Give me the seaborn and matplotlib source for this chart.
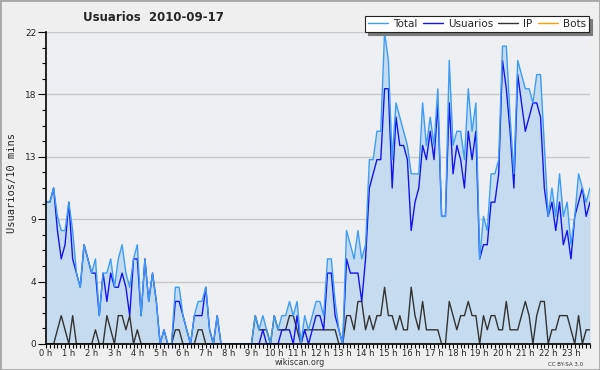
import numpy as np
import pandas as pd
import matplotlib
matplotlib.use("Agg")
import matplotlib.pyplot as plt
import seaborn as sns
from matplotlib.patches import Rectangle
from matplotlib.lines import Line2D

# counts per 10 minutes, 2010-09-17 (144 slots)
usuarios = [
    10, 10, 11, 8, 6, 7, 10, 6, 5, 4, 7, 6, 5, 5, 2, 5, 3, 5, 4, 4, 5, 4, 2, 6,
    6, 2, 6, 3, 5, 3, 0, 1, 0, 0, 3, 3, 2, 1, 0, 2, 2, 2, 4, 1, 0, 2, 0, 0,
    0, 0, 0, 0, 0, 0, 0, 0, 0, 1, 0, 0, 0, 0, 1, 1, 1, 0, 2, 0, 1, 0, 1, 2,
    2, 1, 5, 5, 2, 1, 0, 6, 5, 5, 5, 3, 6, 11, 12, 13, 13, 18, 18, 11, 16, 14, 14, 13,
    8, 10, 11, 14, 13, 15, 13, 17, 9, 9, 17, 12, 14, 13, 11, 15, 13, 15, 6, 7, 7, 10, 10, 12,
    20, 18, 15, 11, 19, 17, 15, 16, 17, 17, 16, 11, 9, 10, 8, 10, 7, 8, 6, 9, 10, 11, 9, 10,
]
ip = [
    0, 0, 0, 1, 2, 1, 0, 2, 0, 0, 0, 0, 0, 1, 0, 0, 2, 1, 0, 2, 2, 1, 2, 0,
    1, 0, 0, 0, 0, 0, 0, 0, 0, 0, 1, 1, 0, 0, 0, 0, 1, 1, 0, 0, 0, 0, 0, 0,
    0, 0, 0, 0, 0, 0, 0, 2, 1, 1, 1, 0, 2, 1, 1, 1, 2, 2, 1, 0, 1, 1, 1, 1,
    1, 1, 1, 1, 1, 0, 0, 2, 2, 1, 3, 3, 1, 2, 1, 2, 2, 4, 2, 2, 1, 2, 1, 1,
    4, 2, 1, 3, 1, 1, 1, 1, 0, 0, 3, 2, 1, 2, 2, 3, 2, 2, 0, 2, 1, 2, 2, 1,
    1, 3, 1, 1, 1, 2, 3, 2, 0, 2, 3, 3, 0, 1, 1, 2, 2, 2, 1, 0, 2, 0, 1, 1,
]
total = [
    10, 10, 11, 9, 8, 8, 10, 8, 5, 4, 7, 6, 5, 6, 2, 5, 5, 6, 4, 6, 7, 5, 4, 6,
    7, 2, 6, 3, 5, 3, 0, 1, 0, 0, 4, 4, 2, 1, 0, 2, 3, 3, 4, 1, 0, 2, 0, 0,
    0, 0, 0, 0, 0, 0, 0, 2, 1, 2, 1, 0, 2, 1, 2, 2, 3, 2, 3, 0, 2, 1, 2, 3,
    3, 2, 6, 6, 3, 1, 0, 8, 7, 6, 8, 6, 7, 13, 13, 15, 15, 22, 20, 13, 17, 16, 15, 14,
    12, 12, 12, 17, 14, 16, 14, 18, 9, 9, 20, 14, 15, 15, 13, 18, 15, 17, 6, 9, 8, 12, 12, 13,
    21, 21, 16, 12, 20, 19, 18, 18, 17, 19, 19, 14, 9, 11, 9, 12, 9, 10, 7, 9, 12, 11, 10, 11,
]
bots = [
    0, 0, 0, 0, 0, 0, 0, 0, 0, 0, 0, 0, 0, 0, 0, 0, 0, 0, 0, 0, 0, 0, 0, 0,
    0, 0, 0, 0, 0, 0, 0, 0, 0, 0, 0, 0, 0, 0, 0, 0, 0, 0, 0, 0, 0, 0, 0, 0,
    0, 0, 0, 0, 0, 0, 0, 0, 0, 0, 0, 0, 0, 0, 0, 0, 0, 0, 0, 0, 0, 0, 0, 0,
    0, 0, 0, 0, 0, 0, 0, 0, 0, 0, 0, 0, 0, 0, 0, 0, 0, 0, 0, 0, 0, 0, 0, 0,
    0, 0, 0, 0, 0, 0, 0, 0, 0, 0, 0, 0, 0, 0, 0, 0, 0, 0, 0, 0, 0, 0, 0, 0,
    0, 0, 0, 0, 0, 0, 0, 0, 0, 0, 0, 0, 0, 0, 0, 0, 0, 0, 0, 0, 0, 0, 0, 0,
]
hour_labels = [f"{h} h" for h in range(24)]
y_ticks = [0, 4.4, 8.8, 13.2, 17.6, 22]
y_labels = ["0", "4", "9", "13", "18", "22"]
series = ["Total", "Usuarios", "IP", "Bots"]
colors = ["#3d9cf5", "#1414f0", "#333333", "#ff9c00"]

df = pd.DataFrame({
    "hora": np.arange(len(total)) / 6,
    "Total": total,
    "Usuarios": usuarios,
    "IP": ip,
    "Bots": bots,
})

sns.set_style("ticks")
plt.rcParams["font.family"] = ["DejaVu Sans"]

bg = "#efeff0"
fig = plt.figure(figsize=(6, 3.7), dpi=100, facecolor=bg)
ax = fig.add_axes([0.0767, 0.0703, 0.9066, 0.8432])
ax.set_facecolor("#eeeff2")

# area under the total, then the four series on top
ax.fill_between(df["hora"], df["Total"], 0, color="#c5dcf0", lw=0, zorder=1)
for name, col in zip(series[::-1], colors[::-1]):
    sns.lineplot(data=df, x="hora", y=name, color=col, lw=1.0, ax=ax,
                 zorder=3, legend=False)

ax.set_xlim(0, df["hora"].iloc[-1])
ax.set_ylim(0, 22)
ax.set_xticks(range(24))
ax.set_xticklabels(hour_labels, fontsize=6)
ax.set_xticks(df["hora"], minor=True)
ax.set_yticks(y_ticks)
ax.set_yticklabels(y_labels, fontsize=6.5)
ax.set_yticks(np.arange(0, 22.01, 1.1), minor=True)
ax.tick_params(axis="x", which="major", length=3, width=0.8, pad=0.5, color="black")
ax.tick_params(axis="x", which="minor", length=3, width=0.8, color="black")
ax.tick_params(axis="y", which="major", length=6, width=0.8, pad=1, color="black")
ax.tick_params(axis="y", which="minor", length=3, width=0.8, color="black")
ax.set_xlabel("")
ax.set_ylabel("")
ax.grid(axis="y", which="major", color="#c8c8c8", lw=1, zorder=0)
ax.set_axisbelow(True)
for s in ["top", "right"]:
    ax.spines[s].set_visible(False)
for s in ["left", "bottom"]:
    ax.spines[s].set_color("black")
    ax.spines[s].set_linewidth(1.2)
    ax.spines[s].set_zorder(5)

handles = [Line2D([], [], color=c, lw=1) for c in colors]
leg = fig.legend(handles, series, ncol=4, loc="upper right",
                 bbox_to_anchor=(0.982, 0.957), fontsize=7.5, frameon=True,
                 fancybox=False, shadow={"color": "#7a7a7a", "alpha": 1},
                 handlelength=1.9, handletextpad=0.5, columnspacing=0.5,
                 borderpad=0.3, borderaxespad=0)
leg.get_frame().set_edgecolor("#222222")
leg.get_frame().set_linewidth(0.8)
leg.get_frame().set_facecolor("white")

fig.text(0.255, 0.953, "Usuarios  2010-09-17", ha="center", va="center",
         fontsize=8.5, fontweight="bold")
fig.text(0.02, 0.505, "Usuarios/10 mins", rotation=90, ha="center",
         va="center", fontsize=7.5, family="DejaVu Sans Mono")
fig.text(0.5, 0.019, "wikiscan.org", ha="center", va="center", fontsize=5.8,
         color="#333333")
fig.text(0.942, 0.016, "CC BY-SA 3.0", ha="center", va="center", fontsize=4,
         color="#333333")
fig.patches.append(Rectangle((0, 0), 1, 1, transform=fig.transFigure,
                             fill=False, edgecolor="#a8a8a8", lw=2))

fig.savefig("out.png", dpi=100, facecolor=bg)
